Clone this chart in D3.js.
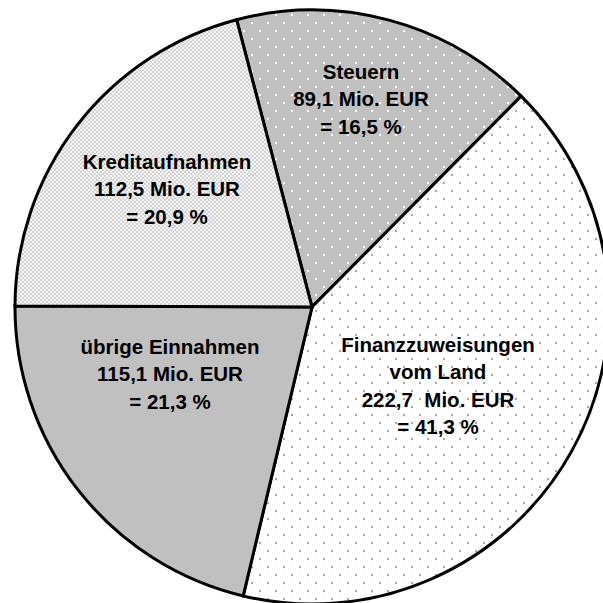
<!DOCTYPE html>
<html>
<head>
<meta charset="utf-8">
<script src="https://cdn.jsdelivr.net/npm/d3@7"></script>
<style>
html,body{margin:0;padding:0;background:#fff;overflow:hidden}
svg{display:block}
</style>
</head>
<body>
<svg id="chart" width="603" height="603"></svg>
<script>
const categories = ["Steuern", "Finanzzuweisungen vom Land", "übrige Einnahmen", "Kreditaufnahmen"];
const values = [89.1, 222.7, 115.1, 112.5];
const percents = ["16,5", "41,3", "21,3", "20,9"];
const labelLines = [
  ["Steuern", "89,1 Mio. EUR", "= 16,5 %"],
  ["Finanzzuweisungen", "vom Land", "222,7\u00A0 Mio. EUR", "= 41,3 %"],
  ["übrige Einnahmen", "115,1 Mio. EUR", "= 21,3 %"],
  ["Kreditaufnahmen", "112,5 Mio. EUR", "= 20,9 %"]
];
const fills = ["url(#patSteuern)", "url(#patFinanz)", "#c0c0c0", "url(#patKredit)"];

const svg = d3.select("#chart");
const cx = 312, cy = 307, r = 297;
const startOffset = -14.7 * Math.PI / 180;

const defs = svg.append("defs");
const p1 = defs.append("pattern").attr("id", "patSteuern").attr("patternUnits", "userSpaceOnUse")
  .attr("width", 16).attr("height", 16);
p1.append("rect").attr("width", 16).attr("height", 16).attr("fill", "#c0c0c0");
p1.append("circle").attr("cx", 4).attr("cy", 4).attr("r", 1.2).attr("fill", "#fafafa");
p1.append("circle").attr("cx", 12).attr("cy", 12).attr("r", 1.2).attr("fill", "#fafafa");

const p2 = defs.append("pattern").attr("id", "patFinanz").attr("patternUnits", "userSpaceOnUse")
  .attr("width", 16).attr("height", 16);
p2.append("rect").attr("width", 16).attr("height", 16).attr("fill", "#fff");
p2.append("circle").attr("cx", 4).attr("cy", 4).attr("r", 1.2).attr("fill", "#a8a8a8");
p2.append("circle").attr("cx", 12).attr("cy", 12).attr("r", 1.2).attr("fill", "#a8a8a8");

const p3 = defs.append("pattern").attr("id", "patKredit").attr("patternUnits", "userSpaceOnUse")
  .attr("width", 4).attr("height", 4);
p3.append("rect").attr("width", 4).attr("height", 4).attr("fill", "#f4f4f4");
p3.append("circle").attr("cx", 1).attr("cy", 1).attr("r", 0.9).attr("fill", "#c4c4c4");
p3.append("circle").attr("cx", 3).attr("cy", 3).attr("r", 0.9).attr("fill", "#c4c4c4");

const pie = d3.pie().sort(null).value(d => d)
  .startAngle(startOffset).endAngle(startOffset + 2 * Math.PI);
const arcs = pie(values);
const arc = d3.arc().innerRadius(0).outerRadius(r);

const g = svg.append("g").attr("transform", `translate(${cx},${cy})`);
g.selectAll("path.slice").data(arcs).join("path")
  .attr("class", "slice")
  .attr("d", arc)
  .attr("fill", (d, i) => fills[i])
  .attr("stroke", "#000")
  .attr("stroke-width", 3)
  .attr("stroke-linejoin", "miter");

const labelPos = [[361, 99], [438, 386], [170, 374], [167, 189]];
const lineH = 27.5;
const tg = svg.append("g")
  .attr("font-family", "'Liberation Sans', Arial, Helvetica, sans-serif")
  .attr("font-weight", "bold")
  .attr("font-size", 20.5)
  .attr("fill", "#000");
labelLines.forEach((lines, i) => {
  const [x, y] = labelPos[i];
  const t = tg.append("text").attr("text-anchor", "middle");
  const n = lines.length;
  lines.forEach((s, k) => {
    t.append("tspan").attr("x", x)
      .attr("y", y + (k - (n - 1) / 2) * lineH + 7)
      .text(s);
  });
});
</script>
</body>
</html>
